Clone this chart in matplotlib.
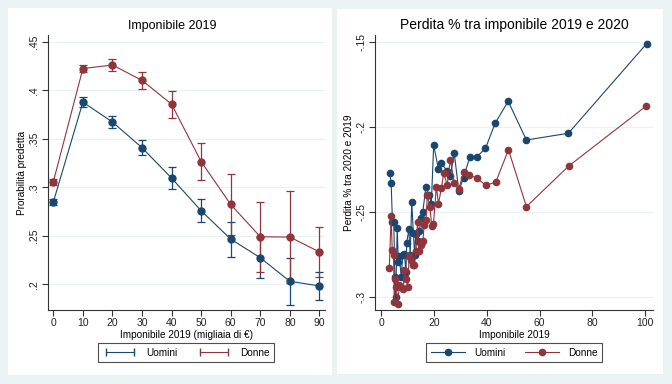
import numpy as np
import matplotlib.pyplot as plt
from matplotlib.lines import Line2D
from matplotlib.patches import Rectangle

plt.rcParams['font.family'] = ['Liberation Sans', 'DejaVu Sans']

navy = '#1a476f'
maroon = '#90353b'
bg = '#eaf2f3'

# --- pannello sinistro: probabilita predetta per classe di imponibile
classi = [0, 10, 20, 30, 40, 50, 60, 70, 80, 90]
uomini_prob = [0.2847, 0.3878, 0.3673, 0.3408, 0.3095, 0.2758, 0.2466, 0.2274, 0.2031, 0.1983]
uomini_err = [0.003, 0.005, 0.006, 0.008, 0.011, 0.012, 0.018, 0.021, 0.024, 0.014]
donne_prob = [0.3057, 0.4224, 0.4261, 0.4102, 0.3857, 0.3265, 0.2823, 0.2490, 0.2487, 0.2334]
donne_err = [0.003, 0.004, 0.006, 0.009, 0.014, 0.019, 0.031, 0.036, 0.047, 0.026]

# --- pannello destro: perdita % tra 2019 e 2020
uomini_x = [3.3, 3.8, 4.3, 4.8, 5.2, 5.5, 6.1, 6.5, 6.9, 7.6, 8.2, 8.8, 9.4, 9.7,
            10.5, 11.0, 11.6, 12.2, 12.7, 13.1, 13.8, 14.5, 15.1, 15.8, 16.9,
            18.2, 19.0, 19.9, 21.7, 22.8, 25.0, 26.2, 27.7, 29.4, 31.2, 33.6,
            36.3, 39.5, 43.2, 48.1, 55.0, 70.9, 100.5]
uomini_perd = [-0.227, -0.233, -0.256, -0.256, -0.288, -0.300, -0.259, -0.279, -0.276, -0.288,
               -0.275, -0.2745, -0.285, -0.268, -0.260, -0.275, -0.244, -0.262, -0.275, -0.263,
               -0.267, -0.261, -0.2535, -0.2498, -0.2353, -0.2398, -0.2451, -0.2104, -0.2247,
               -0.2212, -0.2257, -0.2285, -0.2153, -0.2375, -0.2296, -0.2173, -0.2173, -0.2124,
               -0.1975, -0.1847, -0.2075, -0.2035, -0.1508]
donne_x = [3.1, 3.8, 4.2, 4.7, 5.0, 5.3, 5.8, 6.3, 6.9, 7.7, 8.4, 8.8, 9.5, 10.1,
           10.6, 11.4, 12.1, 12.6, 13.2, 13.8, 14.3, 15.1, 15.8, 16.3, 17.0, 17.5,
           18.4, 19.2, 19.8, 20.9, 21.7, 22.8, 23.7, 25.0, 26.2, 27.7, 29.4, 31.3,
           33.4, 36.3, 39.6, 43.4, 48.2, 55.0, 71.0, 100.3]
donne_perd = [-0.283, -0.252, -0.272, -0.275, -0.303, -0.289, -0.294, -0.304, -0.293, -0.294,
              -0.295, -0.284, -0.289, -0.294, -0.276, -0.278, -0.281, -0.281, -0.273, -0.2555,
              -0.273, -0.269, -0.267, -0.2575, -0.2545, -0.2398, -0.2467, -0.258, -0.257,
              -0.235, -0.245, -0.236, -0.227, -0.234, -0.219, -0.2326, -0.2363, -0.2261,
              -0.2281, -0.230, -0.2341, -0.2323, -0.2132, -0.2467, -0.2228, -0.1875]

tick_sx = [0.2, 0.25, 0.3, 0.35, 0.4, 0.45]
tick_dx = [-0.3, -0.25, -0.2, -0.15]


def fmt(v):
    s = ('%g' % v)
    return s.replace('0.', '.')


fig = plt.figure(figsize=(6.72, 3.84), dpi=100, facecolor=bg)
W, H = 672, 384

# riquadri bianchi dei due grafici
for x0, y0, x1, y1 in [(8, 8, 332, 375), (337, 9, 663, 374)]:
    fig.add_artist(Rectangle((x0 / W, 1 - y1 / H), (x1 - x0) / W, (y1 - y0) / H,
                             transform=fig.transFigure, facecolor='white',
                             edgecolor='none', zorder=0))


def stile(ax):
    for s in ['top', 'right']:
        ax.spines[s].set_visible(False)
    for s in ['left', 'bottom']:
        ax.spines[s].set_color('#333333')
        ax.spines[s].set_linewidth(0.8)
    ax.tick_params(axis='both', length=4, width=0.8, color='#333333',
                   labelsize=7.5, labelcolor='#222222', pad=2)
    ax.tick_params(axis='y', labelrotation=90)
    for lab in ax.get_yticklabels():
        lab.set_va('center')
    ax.grid(axis='y', color=bg, linewidth=0.9)
    ax.set_axisbelow(True)


ax1 = fig.add_axes([47.7 / W, 1 - 310 / H, 277.3 / W, 275 / H])
ax1.errorbar(classi, uomini_prob, yerr=uomini_err, color=navy, marker='o',
             markersize=5, linewidth=0.8, elinewidth=0.9, capsize=3, capthick=0.9)
ax1.errorbar(classi, donne_prob, yerr=donne_err, color=maroon, marker='o',
             markersize=5, linewidth=0.8, elinewidth=0.9, capsize=3, capthick=0.9)
ax1.set_xlim(-1.9, 91.9)
ax1.set_ylim(0.1735, 0.457)
ax1.set_xticks(classi)
ax1.set_yticks(tick_sx)
ax1.set_yticklabels([fmt(v) for v in tick_sx])
stile(ax1)
ax1.set_xlabel('Imponibile 2019 (migliaia di €)', fontsize=7.2, labelpad=1)
ax1.set_ylabel('Prorabilità predetta', fontsize=7.2, labelpad=2)
ax1.set_title('Imponibile 2019', fontsize=9, pad=4, x=0.448)

h1 = [Line2D([], [], color=navy, marker='|', markersize=6, linewidth=0.8),
      Line2D([], [], color=maroon, marker='|', markersize=6, linewidth=0.8)]
leg1 = ax1.legend(h1, ['Uomini', 'Donne'], ncol=2, numpoints=2, loc='center',
                  bbox_to_anchor=(186.3 / W, 1 - 352.5 / H), bbox_transform=fig.transFigure,
                  fontsize=7.2, frameon=True, fancybox=False, edgecolor='#222222',
                  handlelength=3.4, columnspacing=2.0, borderpad=0.45, handletextpad=0.9)
leg1.get_frame().set_linewidth(0.8)

ax2 = fig.add_axes([375.3 / W, 1 - 310 / H, 277.4 / W, 275 / H])
ax2.plot(uomini_x, uomini_perd, color=navy, marker='o', markersize=4.5, linewidth=0.8)
ax2.plot(donne_x, donne_perd, color=maroon, marker='o', markersize=4.5, linewidth=0.8)
ax2.set_xlim(-2.2, 102.8)
ax2.set_ylim(-0.3075, -0.1457)
ax2.set_xticks([0, 20, 40, 60, 80, 100])
ax2.set_yticks(tick_dx)
ax2.set_yticklabels([fmt(v) for v in tick_dx])
stile(ax2)
ax2.set_xlabel('Imponibile 2019', fontsize=7.2, labelpad=1)
ax2.set_ylabel('Perdita % tra 2020 e 2019', fontsize=7.2, labelpad=2)
ax2.set_title('Perdita % tra imponibile 2019 e 2020', fontsize=10, pad=4)

h2 = [Line2D([], [], color=navy, marker='o', markersize=4.5, linewidth=0.8),
      Line2D([], [], color=maroon, marker='o', markersize=4.5, linewidth=0.8)]
leg2 = ax2.legend(h2, ['Uomini', 'Donne'], ncol=2, numpoints=1, loc='center',
                  bbox_to_anchor=(514.3 / W, 1 - 352.5 / H), bbox_transform=fig.transFigure,
                  fontsize=7.2, frameon=True, fancybox=False, edgecolor='#222222',
                  handlelength=3.4, columnspacing=2.0, borderpad=0.45, handletextpad=0.9)
leg2.get_frame().set_linewidth(0.8)

fig.savefig('out.png', dpi=100, facecolor=bg)
